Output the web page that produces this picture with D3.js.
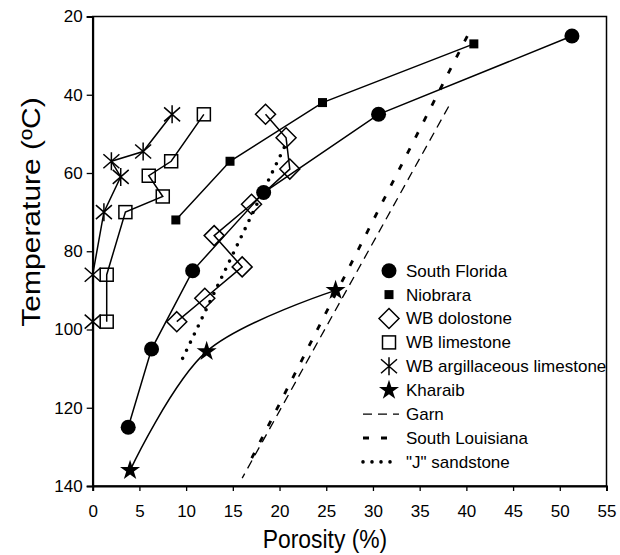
<!DOCTYPE html>
<html>
<head>
<meta charset="utf-8">
<script src="https://cdn.jsdelivr.net/npm/d3@7"></script>
<style>
  body { margin: 0; background: #fff; }
  svg text { font-family: "Liberation Sans", Arial, sans-serif; fill: #000; }
</style>
</head>
<body>
<div id="chart"></div>
<script>
// axis ticks
const porosityTicks = [0, 5, 10, 15, 20, 25, 30, 35, 40, 45, 50, 55];
const tempTicks = [20, 40, 60, 80, 100, 120, 140];

// series values (porosity %, temperature ºC)
const floridaPor = [51.3, 30.6, 18.3, 10.7, 6.3, 3.8];
const floridaTemp = [25, 45, 65, 85, 105, 125];

const niobraraPor = [40.8, 24.6, 14.7, 8.9];
const niobraraTemp = [27, 42, 57, 72];

const dolostonePor = [18.5, 20.7, 21.1, 17.0, 13.0, 16.0, 12.0, 9.0];
const dolostoneTemp = [45, 51, 59, 68, 76, 84, 92, 98];

const limestonePor = [11.9, 8.4, 6.0, 7.5, 3.5, 1.5, 1.5];
const limestoneTemp = [45, 57, 60.7, 66, 70, 86, 98];

const argPor = [8.5, 5.4, 2.0, 3.0, 1.2, 0, 0];
const argTemp = [45, 54.5, 57, 61, 70, 86, 98];

const kharaibPor = [26.0, 12.2, 4.0];
const kharaibTemp = [90, 105.6, 136];

const garnPor = [38.1, 16.0];
const garnTemp = [43, 138];

const louisianaPor = [40.1, 17.0];
const louisianaTemp = [25, 133];

const jPor = [20.5, 9.3];
const jTemp = [53.5, 109];

const seriesNames = ["South Florida", "Niobrara", "WB dolostone", "WB limestone",
  "WB argillaceous limestone", "Kharaib", "Garn", "South Louisiana", "\"J\" sandstone"];

const zip = (a, b) => a.map((v, i) => [v, b[i]]);

const series = [
  { name: seriesNames[0], pts: zip(floridaPor, floridaTemp), marker: "circle" },
  { name: seriesNames[1], pts: zip(niobraraPor, niobraraTemp), marker: "fsquare" },
  { name: seriesNames[2], pts: zip(dolostonePor, dolostoneTemp), marker: "diamond" },
  { name: seriesNames[3], pts: zip(limestonePor, limestoneTemp), marker: "osquare" },
  { name: seriesNames[4], pts: zip(argPor, argTemp), marker: "asterisk" },
  { name: seriesNames[5], pts: zip(kharaibPor, kharaibTemp), marker: "star", smooth: true },
  { name: seriesNames[6], pts: zip(garnPor, garnTemp), dash: "9 6", width: 1.3 },
  { name: seriesNames[7], pts: zip(louisianaPor, louisianaTemp), dash: "6 12", width: 2.8 },
  { name: seriesNames[8], pts: zip(jPor, jTemp), dash: "0 9", width: 3.6, cap: "round" }
];

const width = 620, height = 555;
const plot = { left: 92.7, right: 606.5, top: 16.5, bottom: 486 };

const svg = d3.select("#chart").append("svg")
  .attr("width", width)
  .attr("height", height);

const x = d3.scaleLinear().domain([0, 55]).range([plot.left, plot.right]);
const y = d3.scaleLinear().domain([20, 140]).range([plot.top, plot.bottom]);

// frame
svg.append("rect")
  .attr("x", plot.left).attr("y", plot.top)
  .attr("width", plot.right - plot.left).attr("height", plot.bottom - plot.top)
  .attr("fill", "none").attr("stroke", "#000").attr("stroke-width", 1.5);

// axes
const yAxis = svg.append("g")
  .attr("transform", `translate(${plot.left},0)`)
  .call(d3.axisLeft(y).tickValues(tempTicks).tickSize(6).tickPadding(4));
const xAxis = svg.append("g")
  .attr("transform", `translate(0,${plot.bottom})`)
  .call(d3.axisBottom(x).tickValues(porosityTicks).tickSize(5).tickPadding(14));
[xAxis, yAxis].forEach(g => {
  g.select(".domain").attr("stroke-width", 2);
  g.selectAll(".tick line").attr("stroke-width", 1.3);
  g.selectAll("text").attr("font-size", 17);
});

// axis titles (the source figure is a bit narrowed horizontally)
svg.append("text")
  .attr("transform", "translate(325,548) scale(0.88,1)")
  .attr("text-anchor", "middle")
  .attr("font-size", 26)
  .text("Porosity (%)");
svg.append("text")
  .attr("transform", "translate(40,212) scale(0.88,1) rotate(-90)")
  .attr("text-anchor", "middle")
  .attr("font-size", 30)
  .text("Temperature (ºC)");

// marker shapes
function drawMarker(g, type) {
  if (type === "circle") {
    g.append("circle").attr("r", 7.5).attr("fill", "#000");
  } else if (type === "fsquare") {
    g.append("rect").attr("x", -4.5).attr("y", -4.5).attr("width", 9).attr("height", 9).attr("fill", "#000");
  } else if (type === "osquare") {
    g.append("rect").attr("x", -6.5).attr("y", -6.5).attr("width", 13).attr("height", 13)
      .attr("fill", "none").attr("stroke", "#000").attr("stroke-width", 1.5);
  } else if (type === "diamond") {
    g.append("path").attr("d", "M0,-10L10,0L0,10L-10,0Z")
      .attr("fill", "none").attr("stroke", "#000").attr("stroke-width", 1.5);
  } else if (type === "asterisk") {
    g.append("path").attr("d", "M0,-9V9M-8,-7L8,7M-8,7L8,-7")
      .attr("fill", "none").attr("stroke", "#000").attr("stroke-width", 1.5);
  } else if (type === "star") {
    g.append("path").attr("d", d3.symbol(d3.symbolStar).size(125)()).attr("fill", "#000");
  }
}

const lineGen = d3.line().x(d => x(d[0])).y(d => y(d[1]));
const smoothGen = d3.line().x(d => x(d[0])).y(d => y(d[1])).curve(d3.curveCatmullRom.alpha(0));

series.forEach(s => {
  svg.append("path")
    .datum(s.pts)
    .attr("d", s.smooth ? smoothGen : lineGen)
    .attr("fill", "none")
    .attr("stroke", "#000")
    .attr("stroke-width", s.width || 1.5)
    .attr("stroke-dasharray", s.dash || null)
    .attr("stroke-linecap", s.cap || "butt");
  if (s.marker) {
    svg.append("g").selectAll("g")
      .data(s.pts)
      .join("g")
      .attr("transform", d => `translate(${x(d[0])},${y(d[1])})`)
      .each(function () { drawMarker(d3.select(this), s.marker); });
  }
});

// legend
const legend = svg.append("g");
const legendTop = 270.7, legendStep = 23.9, markX = 389, textX = 406;
series.forEach((s, i) => {
  const ly = legendTop + i * legendStep;
  if (s.marker) {
    const g = legend.append("g").attr("transform", `translate(${markX},${ly})`);
    drawMarker(g, s.marker);
  } else {
    legend.append("line")
      .attr("x1", 363).attr("x2", 399).attr("y1", ly).attr("y2", ly)
      .attr("stroke", "#000")
      .attr("stroke-width", s.width)
      .attr("stroke-dasharray", s.dash)
      .attr("stroke-linecap", s.cap || "butt");
  }
  legend.append("text")
    .attr("x", textX).attr("y", ly)
    .attr("dy", "0.35em")
    .attr("font-size", 17)
    .text(s.name);
});
</script>
</body>
</html>
